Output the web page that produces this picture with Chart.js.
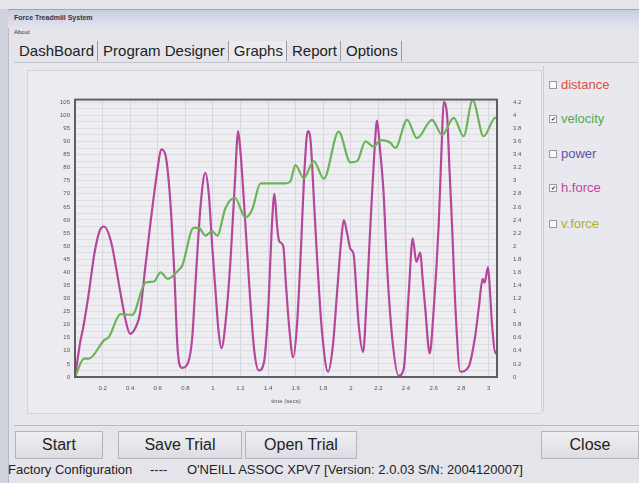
<!DOCTYPE html>
<html>
<head>
<meta charset="utf-8">
<script src="https://cdn.jsdelivr.net/npm/chart.js@4/dist/chart.umd.min.js"></script>
<style>
  html,body{margin:0;padding:0;}
  body{width:639px;height:483px;background:#e4e4ea;position:relative;overflow:hidden;font-family:"Liberation Sans",Arial,sans-serif;}
  .abs{position:absolute;}
  #titlebar{left:8px;top:9px;width:631px;height:18px;background:linear-gradient(#c9cde0,#e2e4ee);border-top:1px solid #9aa3c8;}
  #titlebar span{position:absolute;left:6px;top:4px;font-size:7px;font-weight:bold;color:#334;}
  #about{left:14px;top:29px;font-size:6px;color:#333;}
  #leftedge{left:0;top:9px;width:8px;height:474px;background:#d0d2dc;border-right:1px solid #b8bac8;}
  #tabs{left:14px;top:41px;height:20px;font-size:15px;color:#222;white-space:nowrap;}
  #tabs span{display:inline-block;padding:0 3px 0 5px;border-right:1px solid #9a9aa6;height:20px;line-height:20px;}
  #tabs span.active{background:#ececf0;}
  #panel{left:14px;top:62px;width:624px;height:364px;background:#e8e8ee;border-top:1px solid #c4c4cc;}
  #chartbox{left:27px;top:70px;width:513px;height:342px;background:#ebebf0;border:1px solid #d4d4dc;}
  #legendbox{left:543px;top:66px;width:94px;height:346px;border-left:1px solid #cfcfd8;}
  .leg{position:absolute;left:549px;font-size:13px;white-space:nowrap;}
  .leg i{display:inline-block;width:6px;height:6px;border:1px solid #9a9aa4;background:#fafafa;margin-right:4px;vertical-align:middle;position:relative;top:-1px;font-style:normal;font-size:6px;line-height:6px;text-align:center;color:#333;}
  #sep{left:14px;top:425px;width:625px;height:1px;background:#b8b8c2;}
  .btn{position:absolute;top:431px;height:26px;line-height:26px;text-align:center;font-size:16px;color:#222;background:linear-gradient(#efeff3,#dcdce2);border:1px solid #b4b4be;}
  .st{position:absolute;top:462px;font-size:13px;color:#222;white-space:nowrap;}
  #cwrap{left:40px;top:88px;width:490px;height:322px;}
</style>
</head>
<body>
<div id="leftedge" class="abs"></div>
<div id="titlebar" class="abs"><span>Force Treadmill System</span></div>
<div id="about" class="abs">About</div>
<div id="panel" class="abs"></div>
<div id="tabs" class="abs"></div>
<div id="chartbox" class="abs"></div>
<div id="legendbox" class="abs"></div>
<div id="cwrap" class="abs"><canvas id="c" width="490" height="322"></canvas></div>
<div id="legend"></div>
<div id="sep" class="abs"></div>
<div class="btn" style="left:15px;width:86px;">Start</div>
<div class="btn" style="left:118px;width:122px;">Save Trial</div>
<div class="btn" style="left:245px;width:110px;">Open Trial</div>
<div class="btn" style="left:541px;width:96px;">Close</div>
<div class="st" style="left:8px;">Factory Configuration</div>
<div class="st" style="left:150px;">----</div>
<div class="st" style="left:187px;">O'NEILL ASSOC XPV7 [Version: 2.0.03 S/N: 2004120007]</div>
<script>
// ---- data ----
const tabNames = ["DashBoard","Program Designer","Graphs","Report","Options"];
const seriesNames = ["distance","velocity","power","h.force","v.force"];
const seriesColors = ["#e04a44","#52ad4e","#5656a8","#c0449c","#b3ad2c"];
const seriesChecked = [false,true,false,true,false];
const legendTops = [77,111,146,180,216];

const hforceTime = [0,0.04,0.06,0.1,0.14,0.18,0.21,0.26,0.33,0.37,0.40,0.44,0.47,0.51,0.55,0.6,0.625,0.655,0.69,0.72,0.745,0.775,0.82,0.85,0.875,0.91,0.945,0.97,0.995,1.02,1.04,1.062,1.09,1.128,1.16,1.183,1.2,1.236,1.27,1.3,1.333,1.37,1.4,1.43,1.446,1.465,1.48,1.51,1.53,1.555,1.582,1.61,1.635,1.665,1.688,1.707,1.735,1.756,1.79,1.835,1.87,1.9,1.93,1.949,1.973,1.997,2.02,2.04,2.057,2.089,2.115,2.142,2.17,2.19,2.21,2.238,2.26,2.3,2.347,2.383,2.42,2.449,2.475,2.504,2.52,2.54,2.572,2.6,2.637,2.66,2.673,2.698,2.715,2.734,2.76,2.794,2.855,2.9,2.927,2.956,2.97,2.995,3.01,3.024,3.05,3.06];
const hforce = [0,14,19,32,47,56,57.5,52,32,21,16.5,19,24,42,60,80,87,85,68,40,10,3.5,5.5,15,37,65,78,70,50,32,18,11,20,45,75,94,86,58,30,10,2.5,5.5,25,60,70,58,52,50,35,18,7.5,20,45,80,94,91,65,45,18,2,12,32,52,60,55,49,47,33,20,9.5,30,58,85,98,88,70,45,15,0.5,3,32,53,44,47.5,38,26,9,25,58,90,105,100,80,58,25,2,4,15,26,37.5,36,42,32,20,9,10];

const velocityTime = [0,0.065,0.1,0.21,0.245,0.33,0.415,0.51,0.572,0.62,0.673,0.753,0.777,0.86,0.898,0.946,0.995,1.031,1.091,1.159,1.236,1.285,1.345,1.526,1.562,1.598,1.659,1.731,1.804,1.912,1.997,2.046,2.106,2.166,2.214,2.287,2.323,2.408,2.48,2.589,2.662,2.746,2.818,2.883,2.963,3.048,3.06];
const velocity = [0,0.28,0.28,0.56,0.61,0.96,0.95,1.44,1.46,1.6,1.5,1.64,1.7,2.28,2.28,2.16,2.23,2.16,2.58,2.74,2.44,2.56,2.96,2.96,2.99,3.24,3.04,3.3,3.03,3.75,3.28,3.3,3.6,3.52,3.62,3.58,3.5,3.93,3.65,3.93,3.7,3.96,3.68,4.23,3.68,3.96,3.96];

// ---- UI text ----
const tabs = document.getElementById('tabs');
tabNames.forEach(n=>{const s=document.createElement('span');s.textContent=n;if(n==='Graphs')s.className='active';tabs.appendChild(s);});
const leg = document.getElementById('legend');
seriesNames.forEach((n,i)=>{
  const d=document.createElement('div');d.className='leg';d.style.top=legendTops[i]+'px';d.style.color=seriesColors[i];
  const b=document.createElement('i');b.textContent=seriesChecked[i]?'\u2714':'';d.appendChild(b);
  d.appendChild(document.createTextNode(n));leg.appendChild(d);
});

const frame = {
  id:'frame',
  beforeDraw(chart){const a=chart.chartArea,ctx=chart.ctx;ctx.save();ctx.fillStyle='#eeeef2';ctx.fillRect(a.left,a.top,a.right-a.left,a.bottom-a.top);ctx.restore();},
  afterDraw(chart){const a=chart.chartArea,ctx=chart.ctx;ctx.save();ctx.strokeStyle='#5e5e64';ctx.lineWidth=2;ctx.strokeRect(a.left,a.top,a.right-a.left,a.bottom-a.top);ctx.restore();}
};
const near=(v,s)=>Math.abs(v/s-Math.round(v/s))<1e-6;
const tickFont={family:"Liberation Sans, Arial",size:6};

new Chart(document.getElementById('c'),{
  type:'line',
  data:{datasets:[
    {label:'velocity',data:velocityTime.map((t,i)=>({x:t,y:velocity[i]})),yAxisID:'y1',borderColor:'#6cb45a',borderWidth:2.2,pointRadius:0,cubicInterpolationMode:'monotone'},
    {label:'h.force',data:hforceTime.map((t,i)=>({x:t,y:hforce[i]})),yAxisID:'y',borderColor:'#b4479a',borderWidth:2.2,pointRadius:0,cubicInterpolationMode:'monotone'}
  ]},
  options:{
    responsive:false,animation:false,
    layout:{padding:{left:10,right:5,top:9,bottom:5}},
    plugins:{legend:{display:false},tooltip:{enabled:false}},
    scales:{
      x:{type:'linear',min:0,max:3.06,
        afterBuildTicks:s=>{s.ticks=s.ticks.filter(t=>near(t.value,0.2));},
        afterFit:s=>{s.height=28;},
        ticks:{stepSize:0.2,includeBounds:false,autoSkip:false,maxRotation:0,font:tickFont,color:'#555',padding:8,
          callback:v=>v===0?'':String(Math.round(v*10)/10)},
        grid:{color:'#d6d6de',lineWidth:1,drawTicks:false},border:{display:false},
        title:{display:true,text:'time (secs)',font:{family:"Liberation Sans, Arial",size:6},color:'#555',padding:{top:1,bottom:0}}},
      y:{position:'left',min:0,max:106,
        afterBuildTicks:s=>{s.ticks=s.ticks.filter(t=>near(t.value,2.5));},
        afterFit:s=>{s.width=25;},
        ticks:{stepSize:2.5,includeBounds:false,autoSkip:false,font:tickFont,color:'#555',padding:5,callback:v=>near(v,5)?String(v):''},
        grid:{color:'#dcdce3',lineWidth:1,drawTicks:false},border:{display:false}},
      y1:{position:'right',min:0,max:4.24,
        afterBuildTicks:s=>{s.ticks=s.ticks.filter(t=>near(t.value,0.2));},
        afterFit:s=>{s.width=28;},
        ticks:{stepSize:0.2,includeBounds:false,autoSkip:false,font:tickFont,color:'#555',padding:8,callback:v=>String(Math.round(v*10)/10)},
        grid:{display:false},border:{display:false}}
    }
  },
  plugins:[frame]
});
</script>
</body>
</html>
